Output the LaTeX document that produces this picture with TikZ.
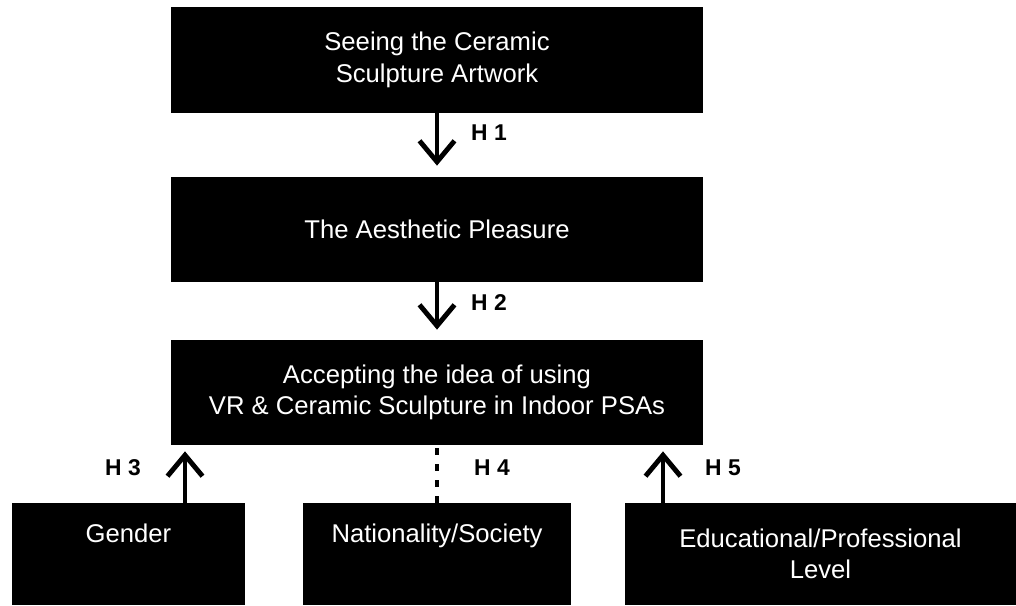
\documentclass[tikz,border=0pt]{standalone}
\usepackage{fontspec}
\setmainfont{Liberation Sans}
\usepackage{tikz}
\usetikzlibrary{arrows.meta}
\tikzstyle{block} = [fill=black, text=white, align=center, inner sep=0pt, font=\fontsize{14.6}{18}\selectfont]
\tikzstyle{hyp} = [line width=2.8pt, -{Straight Barb[length=0.42cm,width=0.7cm]}]
\tikzstyle{nohyp} = [line width=2.8pt, dash pattern=on 0.14cm off 0.18cm]
\tikzstyle{hlabel} = [font=\bfseries\fontsize{13}{15}\selectfont]

\begin{document}
\begin{tikzpicture}[x=0.02cm,y=0.02cm]
    \useasboundingbox (0,0) rectangle (1016,605);
    % main chain
    \node[block, minimum width=10.66cm, minimum height=2.12cm] (seeing) at (437,545) {Seeing the Ceramic\\Sculpture Artwork};
    \node[block, minimum width=10.66cm, minimum height=2.1cm] (pleasure) at (437,375.5) {The Aesthetic Pleasure};
    \node[block, minimum width=10.66cm, minimum height=2.1cm] (accept) at (437,212.5) {Accepting the idea of using\\VR \& Ceramic Sculpture in Indoor PSAs};
    % moderators
    \node[block, minimum width=4.66cm, minimum height=2.04cm] (gender) at (128.5,51) {Gender\\\strut};
    \node[block, minimum width=5.36cm, minimum height=2.04cm] (nation) at (437,51) {Nationality/Society\\\strut};
    \node[block, minimum width=7.82cm, minimum height=2.04cm] (edu) at (820.5,51) {Educational/Professional\\Level};
    \coordinate (xthree) at (185,0);
    \coordinate (xfive) at (663,0);
    \draw[hyp, shorten >=0.22cm] (seeing) -- (pleasure);
    \draw[hyp, shorten >=0.2cm] (pleasure) -- (accept);
    \draw[hyp, shorten >=0.12cm] (gender.north -| xthree) -- (accept.south -| xthree);
    \draw[nohyp] (nation) -- (accept);
    \draw[hyp, shorten >=0.12cm] (edu.north -| xfive) -- (accept.south -| xfive);
    \node[hlabel, anchor=west] (hone) at (465,472) {H 1};
    \node[hlabel, anchor=west] (htwo) at (465,302) {H 2};
    \node[hlabel] (hthree) at (123,137) {H 3};
    \node[hlabel] (hfour) at (492,137) {H 4};
    \node[hlabel] (hfive) at (723,137) {H 5};
\end{tikzpicture}
\end{document}
